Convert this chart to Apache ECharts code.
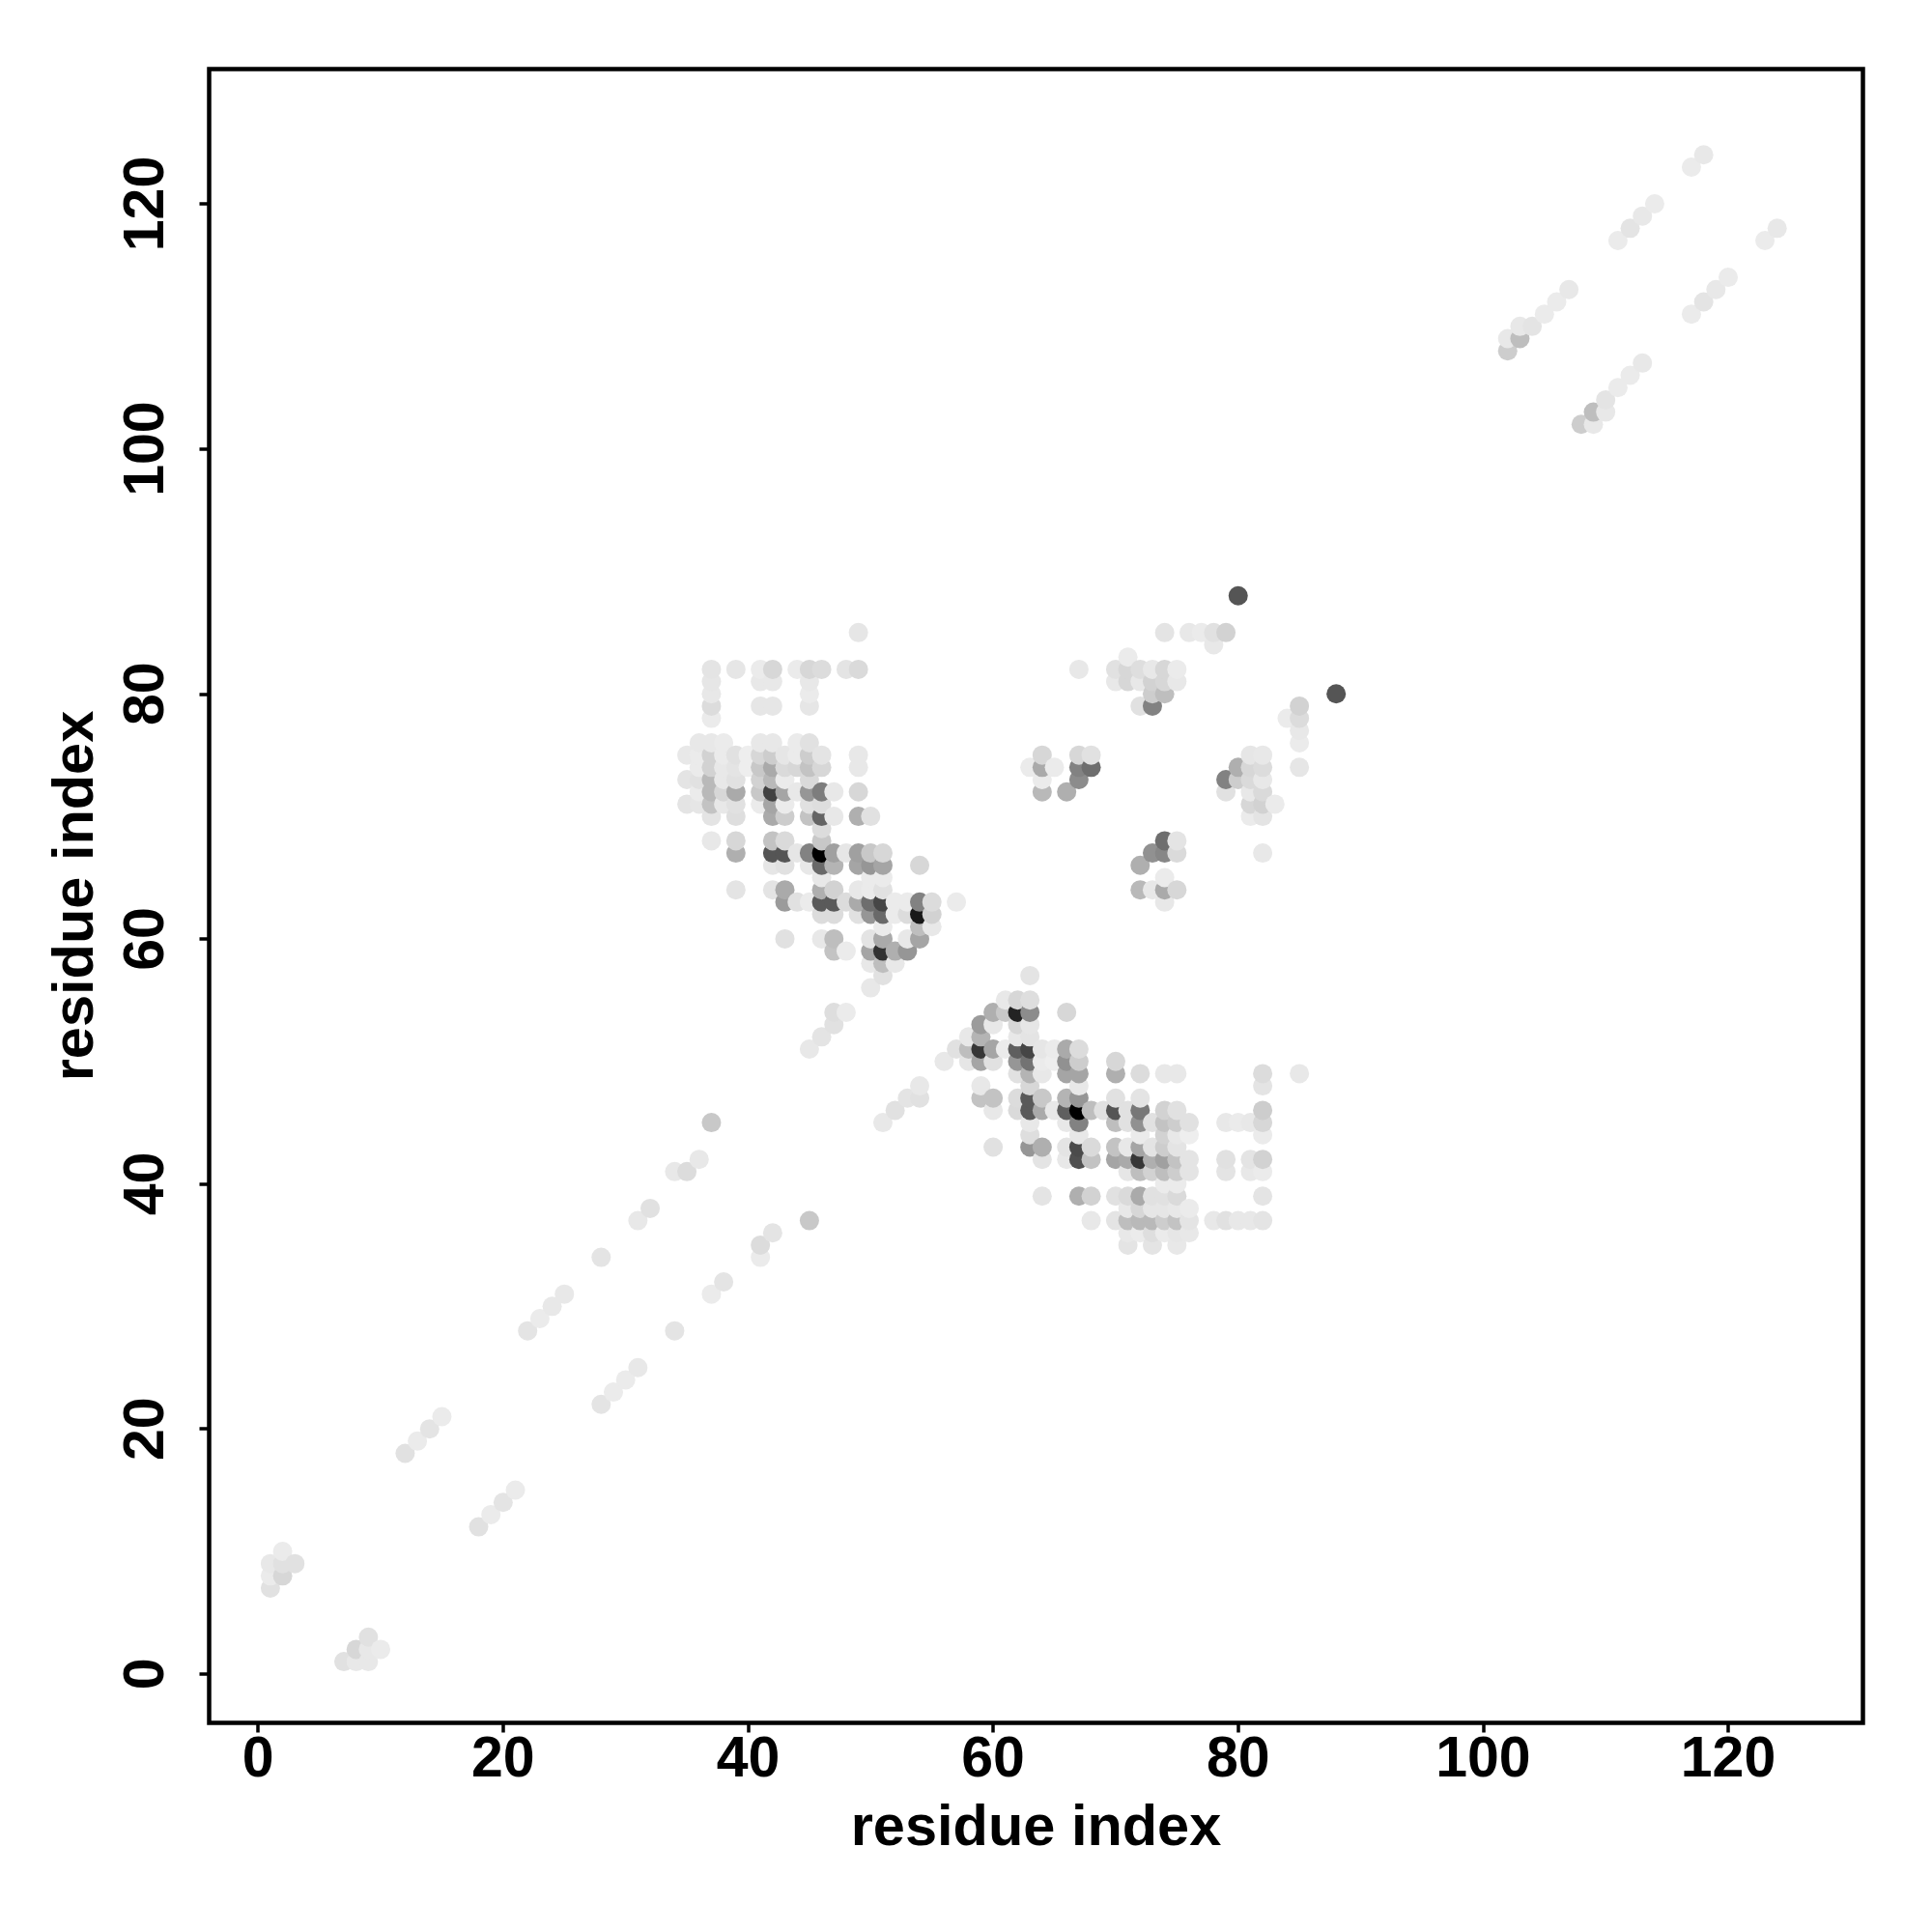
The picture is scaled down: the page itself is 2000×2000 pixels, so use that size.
<!DOCTYPE html>
<html>
<head>
<meta charset="utf-8">
<style>html,body{margin:0;padding:0;background:#fff}#c{width:2000px;height:2000px}</style>
<script src="https://cdn.jsdelivr.net/npm/echarts@6/dist/echarts.min.js"></script>
</head>
<body>
<div id="c"></div>
<script>
// each entry: [residue x, residue y, grey level 0-255]
const tickValues = [0, 20, 40, 60, 80, 100, 120];
const axisTitle = 'residue index';

const cornerLower = [
  [1,7,225],[1,8,235],[1,9,232],[2,8,215],[2,9,225],[2,10,235],[3,9,225],
  [7,1,225],[8,1,232],[8,2,215],[9,1,232],[9,2,232],[9,3,225],[10,2,235]
];
const diagonalLower = [
  [12,18,225],[13,19,235],[14,20,228],[15,21,235],[18,12,225],[19,13,235],[20,14,228],[21,15,235],
  [22,28,228],[23,29,235],[24,30,232],[25,31,232],[28,22,228],[29,23,235],[30,24,235],[31,25,232],
  [28,34,228],[34,28,228],[31,37,232],[32,38,225],[37,31,235],[38,32,228],
  [34,41,232],[35,41,220],[36,42,232],[41,34,235],[41,35,220],[42,36,228],[37,45,200],[45,37,200],
  [45,51,232],[46,52,228],[47,53,225],[47,54,222],[48,54,235],
  [51,45,232],[52,46,225],[53,47,228],[54,47,225],[54,48,232]
];
const blockUpper = [
  [49,85,230],
  [37,82,228],[39,82,230],[41,82,235],[42,82,215],[44,82,235],[45,82,215],[46,82,220],[48,82,228],[49,82,218],
  [37,81,230],[41,81,232],[42,81,232],[45,81,232],
  [37,80,232],[45,80,235],
  [37,79,220],[41,79,230],[42,79,230],[45,79,230],
  [37,78,235],
  [36,76,232],[37,76,232],[38,76,235],[41,76,232],[42,76,232],[44,76,235],[45,76,225],
  [35,75,232],[36,75,235],[37,75,210],[38,75,235],[39,75,225],[40,75,238],[41,75,215],[42,75,205],[43,75,230],[44,75,235],[45,75,205],[46,75,228],[49,75,232],
  [36,74,235],[37,74,210],[38,74,232],[39,74,228],[40,74,238],[41,74,200],[42,74,170],[43,74,218],[44,74,215],[45,74,195],[46,74,215],[49,74,232],
  [35,73,228],[36,73,225],[37,73,185],[38,73,232],[39,73,225],[41,73,210],[42,73,185],[43,73,235],[45,73,218],
  [36,72,235],[37,72,185],[38,72,215],[39,72,170],[41,72,200],[42,72,65],[43,72,165],[44,72,232],[45,72,150],[46,72,125],[47,72,232],[49,72,215],
  [35,71,228],[36,71,230],[37,71,195],[38,71,232],[39,71,225],[41,71,235],[42,71,165],[43,71,235],[45,71,225],[46,71,222],
  [37,70,228],[39,70,222],[42,70,170],[43,70,205],[45,70,195],[46,70,100],[47,70,232],[49,70,175],[50,70,225],
  [46,69,220],
  [37,68,232],[39,68,215],[42,68,195],[43,68,218],[46,68,200],
  [39,67,175],[42,67,85],[43,67,85],[44,67,230],[45,67,130],[46,67,0],[47,67,160],[48,67,230],[49,67,160],[50,67,200],[51,67,215],
  [42,66,230],[43,66,225],[45,66,232],[46,66,105],[47,66,180],[49,66,165],[50,66,150],[51,66,165],[54,66,215],
  [46,65,232],[50,65,235],[51,65,235],
  [39,64,228],[42,64,228],[43,64,170],[46,64,175],[47,64,210],[49,64,232],[50,64,235],[51,64,225],
  [43,63,155],[44,63,225],[45,63,235],[46,63,90],[47,63,90],[48,63,220],[49,63,170],[50,63,110],[51,63,70],[52,63,235],[53,63,235],[54,63,130],[55,63,220],[57,63,235],
  [46,62,220],[47,62,220],[49,62,225],[50,62,150],[51,62,105],[52,62,235],[53,62,220],[54,62,25],[55,62,210],
  [51,61,235],[54,61,190],[55,61,232],
  [43,60,225],[46,60,232],[47,60,190],[50,60,228],[51,60,170],[53,60,232],[54,60,165],
  [47,59,195],[48,59,235],[50,59,165],[51,59,50],[52,59,175],[53,59,150],
  [50,58,232],[51,58,190],[52,58,232],
  [51,57,225],[50,56,232]
];
const blockLower = [
  [63,57,228],
  [61,55,232],[62,55,215],[63,55,222],
  [60,54,175],[61,54,200],[62,54,35],[63,54,140],[66,54,215],
  [59,53,155],[60,53,232],[62,53,215],[63,53,230],
  [58,52,232],[59,52,180],[62,52,232],[63,52,228],
  [57,51,225],[58,51,190],[59,51,55],[60,51,165],[61,51,235],[62,51,95],[63,51,70],[64,51,230],[65,51,235],[66,51,170],[67,51,220],
  [56,50,232],[58,50,230],[59,50,165],[60,50,225],[62,50,150],[63,50,115],[64,50,235],[65,50,238],[66,50,145],[67,50,205],[70,50,215],
  [62,49,225],[63,49,180],[64,49,232],[66,49,165],[67,49,165],[70,49,175],[72,49,220],[74,49,232],[75,49,232],[82,49,220],[85,49,232],
  [59,48,232],[63,48,215],[67,48,232],[82,48,228],
  [59,47,195],[60,47,195],[62,47,220],[63,47,90],[64,47,200],[66,47,180],[67,47,150],[70,47,225],[72,47,228],
  [60,46,232],[62,46,218],[63,46,90],[64,46,170],[65,46,232],[66,46,95],[67,46,0],[68,46,190],[69,46,225],[70,46,85],[71,46,225],[72,46,120],[74,46,210],[75,46,225],[82,46,205],
  [63,45,232],[66,45,232],[67,45,130],[70,45,190],[71,45,225],[72,45,145],[73,45,225],[74,45,195],[75,45,205],[76,45,225],[79,45,232],[80,45,235],[81,45,232],[82,45,215],
  [63,44,222],[67,44,232],[72,44,235],[74,44,210],[75,44,232],[76,44,238],[82,44,235],
  [60,43,225],[63,43,150],[64,43,175],[66,43,228],[67,43,75],[68,43,218],[70,43,195],[71,43,232],[72,43,165],[73,43,228],[74,43,205],[75,43,228],
  [64,42,228],[66,42,232],[67,42,80],[68,42,195],[70,42,165],[71,42,170],[72,42,55],[73,42,175],[74,42,160],[75,42,195],[76,42,228],[79,42,225],[81,42,228],[82,42,210],
  [71,41,230],[72,41,190],[73,41,210],[74,41,190],[75,41,205],[76,41,228],[79,41,228],[81,41,232],[82,41,235],
  [74,40,235],[75,40,235],
  [64,39,228],[67,39,175],[68,39,210],[70,39,225],[71,39,218],[72,39,170],[73,39,225],[74,39,225],[75,39,218],[82,39,228],
  [71,38,232],[72,38,215],[73,38,230],[74,38,230],[75,38,232],[76,38,235],
  [68,37,232],[70,37,228],[71,37,190],[72,37,185],[73,37,185],[74,37,205],[75,37,195],[76,37,228],[78,37,232],[79,37,225],[80,37,232],[81,37,232],[82,37,228],
  [71,36,232],[72,36,235],[73,36,222],[74,36,235],[75,36,230],[76,36,232],
  [71,35,228],[73,35,228],[75,35,232]
];
const blockRight = [
  [80,88,85],[88,80,85],
  [74,85,228],[76,85,232],[77,85,235],[78,85,225],[79,85,210],[78,84,232],[71,83,235],
  [67,82,232],[70,82,225],[71,82,215],[72,82,222],[73,82,232],[74,82,215],[75,82,235],
  [70,81,232],[71,81,215],[72,81,232],[73,81,210],[74,81,215],[75,81,232],
  [73,80,205],[74,80,190],[72,79,225],[73,79,130],
  [85,79,210],[84,78,235],[85,78,220],[85,77,232],[85,76,235],
  [64,75,215],[67,75,215],[68,75,225],[81,75,230],[82,75,232],
  [63,74,235],[64,74,170],[65,74,235],[67,74,130],[68,74,110],[80,74,175],[81,74,215],[82,74,220],[85,74,230],
  [64,73,235],[67,73,140],[79,73,130],[80,73,205],[81,73,218],[82,73,232],
  [64,72,185],[66,72,175],[79,72,225],[81,72,232],[82,72,218],
  [81,71,215],[82,71,210],[83,71,235],[81,70,235],[82,70,228],
  [74,68,110],[75,68,228],[73,67,145],[74,67,135],[75,67,218],[82,67,232],[72,66,175],
  [74,65,235],[72,64,185],[73,64,232],[74,64,170],[75,64,215],[74,63,232]
];
const diagonalUpper = [
  [102,108,205],[102,109,232],[103,109,190],[103,110,232],[104,110,228],[105,111,235],[106,112,235],[107,113,232],
  [108,102,205],[109,102,232],[109,103,190],[110,103,232],[110,104,228],[111,105,235],[112,106,235],[113,107,232],
  [111,117,235],[112,118,228],[113,119,232],[114,120,235],[117,123,235],[118,124,232],
  [117,111,235],[118,112,228],[119,113,232],[120,114,235],[123,117,235],[124,118,232]
];

const points = [].concat(cornerLower, diagonalLower, blockUpper, blockLower, blockRight, diagonalUpper)
  .sort((a, b) => a[0] - b[0] || a[1] - b[1]);

const axisCommon = {
  type: 'value', min: -4, max: 131,
  splitLine: {show: false},
  axisLine: {show: false, onZero: false},
  axisTick: {show: true, length: 10, customValues: tickValues, lineStyle: {color: '#000', width: 3.5}},
  name: axisTitle, nameLocation: 'middle',
  nameTextStyle: {fontFamily: 'Liberation Sans', fontWeight: 'bold', fontSize: 59.5, color: '#000'}
};
const chart = echarts.init(document.getElementById('c'), null, {renderer: 'canvas'});
chart.setOption({
  animation: false,
  backgroundColor: '#fff',
  grid: {left: 216.5, top: 71.5, width: 1712, height: 1712, show: true, borderColor: '#000', borderWidth: 4.5, backgroundColor: '#fff'},
  xAxis: Object.assign({}, axisCommon, {
    nameGap: 80,
    axisLabel: {customValues: tickValues, margin: 10, fontFamily: 'Liberation Sans', fontWeight: 'bold', fontSize: 59, color: '#000'}
  }),
  yAxis: Object.assign({}, axisCommon, {
    nameGap: 107, nameRotate: 90,
    axisLabel: {customValues: tickValues, rotate: 90, margin: 34, fontFamily: 'Liberation Sans', fontWeight: 'bold', fontSize: 59, color: '#000'}
  }),
  series: [{
    type: 'scatter', silent: true, symbol: 'circle', symbolSize: 20,
    data: points,
    encode: {x: 0, y: 1},
    itemStyle: {opacity: 1, color: p => { const g = p.value[2]; return `rgb(${g},${g},${g})`; }}
  }]
});
</script>
</body>
</html>
